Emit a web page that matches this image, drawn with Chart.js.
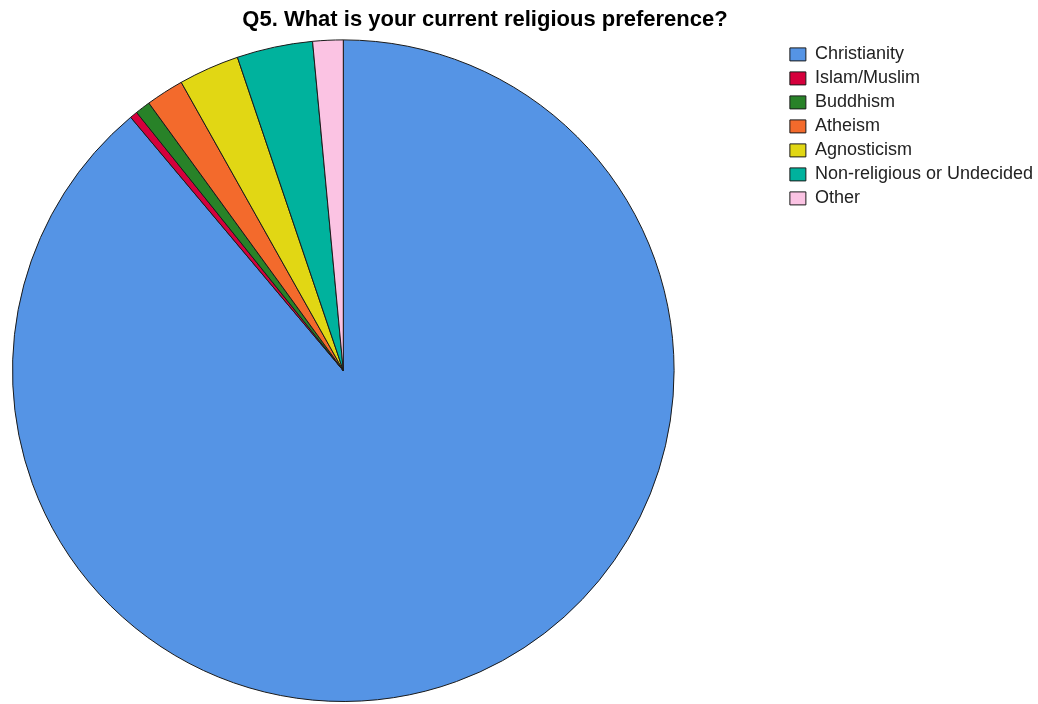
<!DOCTYPE html>
<html>
<head>
<meta charset="utf-8">
<title>Q5 religious preference</title>
<script src="https://cdn.jsdelivr.net/npm/chart.js@4.4.1/dist/chart.umd.min.js"></script>
<style>
    html, body { margin: 0; padding: 0; background: #ffffff; }
    canvas { display: block; }
</style>
</head>
<body>
<canvas id="religionChart" width="1038" height="704"></canvas>
<script>
// Response counts per category
const categories = ['Christianity', 'Islam/Muslim', 'Buddhism', 'Atheism', 'Agnosticism', 'Non-religious or Undecided', 'Other'];
const counts = [240, 1, 2, 5, 8, 10, 4];
const sliceColors = ['#5594e5', '#d5003c', '#288228', '#f36a2c', '#e1d714', '#00b29d', '#fbc3e3'];

// Keep the pie in a square on the left instead of centred in the leftover area
const pieLeftPlugin = {
    id: 'pieLeft',
    afterLayout(chart) {
        const area = chart.chartArea;
        const size = area.bottom - area.top;
        area.left = 12;
        area.right = area.left + size;
        area.width = size;
    }
};

document.addEventListener('DOMContentLoaded', function () {
    const ctx = document.getElementById('religionChart').getContext('2d');
    new Chart(ctx, {
        type: 'pie',
        data: {
            labels: categories,
            datasets: [{
                data: counts,
                backgroundColor: sliceColors,
                borderColor: '#1a1a1a',
                borderWidth: 1,
                clip: false
            }]
        },
        options: {
            responsive: false,
            animation: false,
            devicePixelRatio: 1,
            // negative side padding moves the title centre left and the legend to the edge
            layout: {
                padding: { left: -73, right: -5, top: 0, bottom: 2 }
            },
            plugins: {
                title: {
                    display: true,
                    text: 'Q5. What is your current religious preference?',
                    color: '#000000',
                    font: { family: 'Liberation Sans, Arial, sans-serif', size: 22, weight: 'bold' },
                    padding: { top: 7, bottom: 6 }
                },
                legend: {
                    position: 'right',
                    align: 'start',
                    fullSize: false,
                    labels: {
                        color: '#222222',
                        boxWidth: 16,
                        boxHeight: 13,
                        padding: 6,
                        font: { family: 'Liberation Sans, Arial, sans-serif', size: 18 }
                    }
                },
                tooltip: { enabled: false }
            }
        },
        plugins: [pieLeftPlugin]
    });
});
</script>
</body>
</html>
